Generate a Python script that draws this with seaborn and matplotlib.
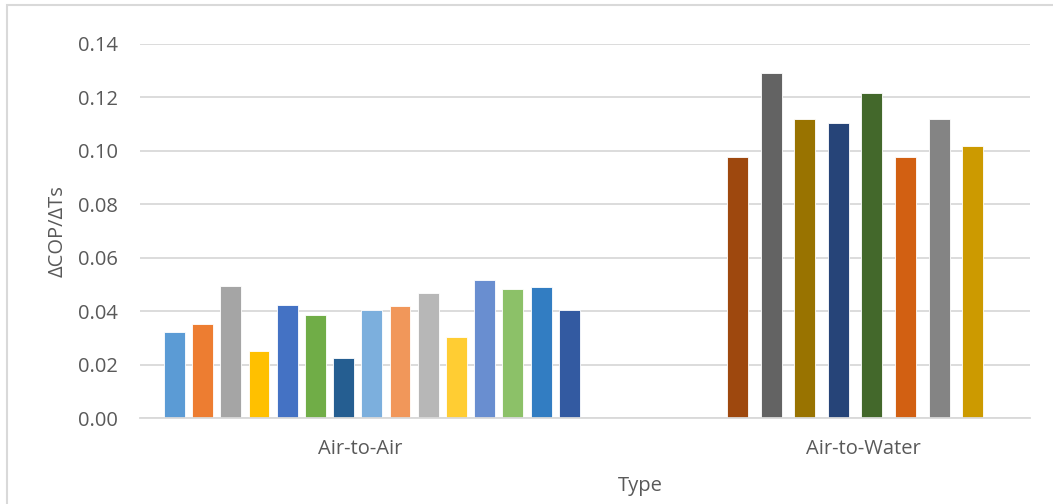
import matplotlib
matplotlib.use("Agg")
import matplotlib.pyplot as plt
from matplotlib.patches import Rectangle
import numpy as np
import pandas as pd
import seaborn as sns

# data
types = ["Air-to-Air", "Air-to-Water"]
air_to_air = [0.0322, 0.0352, 0.0494, 0.0252, 0.0423, 0.0387, 0.0223, 0.0403,
              0.0419, 0.0467, 0.0304, 0.0517, 0.0482, 0.0489, 0.0403]
air_to_water = [0.0976, 0.1293, 0.1118, 0.1103, 0.1216, 0.0976, 0.1118, 0.1018]
air_colors = ["#5B9BD5", "#ED7D31", "#A5A5A5", "#FFC000", "#4472C4", "#70AD47",
              "#255E91", "#7CAFDD", "#F1975A", "#B7B7B7", "#FFCD33", "#698ED0",
              "#8CC168", "#327DC2", "#335AA1"]
water_colors = ["#9E480E", "#636363", "#997300", "#264478", "#43682B",
                "#D26012", "#848484", "#CC9A00"]

# layout of each group (category units)
group_center = {"Air-to-Air": 0.021, "Air-to-Water": 1.107}
group_step = {"Air-to-Air": 0.0634, "Air-to-Water": 0.0755}
label_pos = {"Air-to-Air": -0.006, "Air-to-Water": 1.125}

rows = []
for t, vals, cols in [("Air-to-Air", air_to_air, air_colors),
                      ("Air-to-Water", air_to_water, water_colors)]:
    n = len(vals)
    for i, (v, c) in enumerate(zip(vals, cols)):
        pos = group_center[t] + (i - (n - 1) / 2) * group_step[t]
        rows.append({"Type": t, "model": f"{t[7]}{i + 1}", "value": v,
                     "pos": round(pos, 4), "color": c})
df = pd.DataFrame(rows)
palette = dict(zip(df["model"], df["color"]))

sns.set_style("white")
plt.rcParams["font.family"] = ["Open Sans", "DejaVu Sans"]
text_color = "#595959"
grid_color = "#D9D9D9"

fig = plt.figure(figsize=(10.53, 5.04), dpi=100)
ax = fig.add_axes([140 / 1053, 86 / 504, 890 / 1053, 374 / 504])

ax.yaxis.grid(True, color=grid_color, linewidth=1.3)
ax.set_axisbelow(True)
sns.barplot(data=df, x="pos", y="value", hue="model", palette=palette,
            native_scale=True, dodge=False, width=0.74, legend=False,
            edgecolor="white", linewidth=0.6, saturation=1, ax=ax)

ax.set_xlim(-0.5, 1.5)
ax.set_ylim(0, 0.14)
ax.set_yticks(np.arange(0, 0.141, 0.02))
ax.set_yticklabels([f"{v:.2f}" for v in np.arange(0, 0.141, 0.02)])
ax.set_xticks([label_pos[t] for t in types])
ax.set_xticklabels(types)
ax.tick_params(axis="y", length=0, pad=16, labelsize=14.5, labelcolor=text_color)
ax.tick_params(axis="x", length=0, pad=15, labelsize=14.5, labelcolor=text_color)
for s in ["top", "right", "left"]:
    ax.spines[s].set_visible(False)
ax.spines["bottom"].set_color(grid_color)
ax.spines["bottom"].set_linewidth(1.3)

ax.set_xlabel("Type", fontsize=14.5, color=text_color)
ax.xaxis.set_label_coords(0.562, -0.155)
ax.set_ylabel("ΔCOP/ΔTs", fontsize=14.5, color=text_color, labelpad=7)

fig.patches.append(Rectangle((7 / 1053, -0.1), 1.5, (499 / 504) + 0.1,
                             transform=fig.transFigure, fill=False,
                             edgecolor=grid_color, linewidth=1.5))

fig.savefig("out.png", dpi=100)
